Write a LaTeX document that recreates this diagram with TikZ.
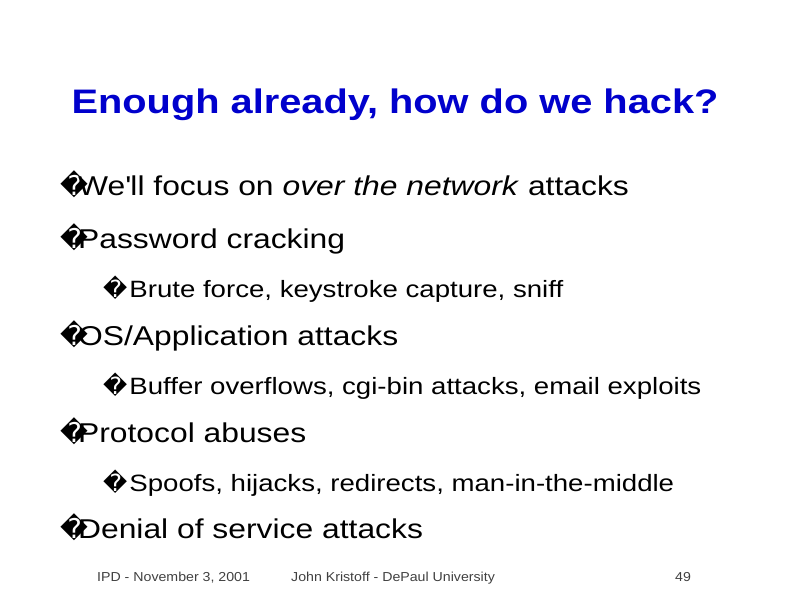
\documentclass[tikz,border=0pt]{standalone}
\usepackage{fontspec}
\setmainfont{Liberation Sans}[FakeStretch=1.17]
\newfontfamily\ftfont{Liberation Sans}[FakeStretch=1.09]
\newfontfamily\dv{DejaVu Sans}
\newcommand{\bul}{{\dv\char"FFFD}}
\begin{document}
\begin{tikzpicture}[x=1pt,y=1pt,
  txt/.style={anchor=base west,inner sep=0pt},
  lone/.style={txt,font=\fontsize{27.2}{30}\selectfont},
  ltwo/.style={txt,font=\fontsize{23.6}{25}\selectfont},
  foot/.style={anchor=base west,inner sep=0pt,font=\ftfont\fontsize{13}{14}\selectfont,text=black!75}]
\useasboundingbox (0,0) rectangle (793,-596);
\node[anchor=base,inner sep=0pt,font=\bfseries\fontsize{34}{36}\selectfont,text=blue!80!black] (title) at (395,-114) {Enough already, how do we hack?};
\node[lone] (b1) at (60,-196) {\bul\hspace{-10pt}We\textquotesingle ll focus on \textit{over the network} attacks};
\node[lone] (b2) at (60,-249) {\bul\hspace{-10pt}Password cracking};
\node[ltwo] (s2) at (103,-298) {\bul\hspace{2pt}Brute force, keystroke capture, sniff};
\node[lone] (b3) at (60,-345) {\bul\hspace{-10pt}OS/Application attacks};
\node[ltwo] (s3) at (103,-394) {\bul\hspace{2pt}Buffer overflows, cgi-bin attacks, email exploits};
\node[lone] (b4) at (60,-442) {\bul\hspace{-10pt}Protocol abuses};
\node[ltwo] (s4) at (103,-491) {\bul\hspace{2pt}Spoofs, hijacks, redirects, man-in-the-middle};
\node[lone] (b5) at (60,-538) {\bul\hspace{-10pt}Denial of service attacks};
\node[foot] (f1) at (97,-581) {IPD - November 3, 2001};
\node[foot] (f2) at (291,-581) {John Kristoff - DePaul University};
\node[foot] (f3) at (675,-581) {49};
\end{tikzpicture}
\end{document}
